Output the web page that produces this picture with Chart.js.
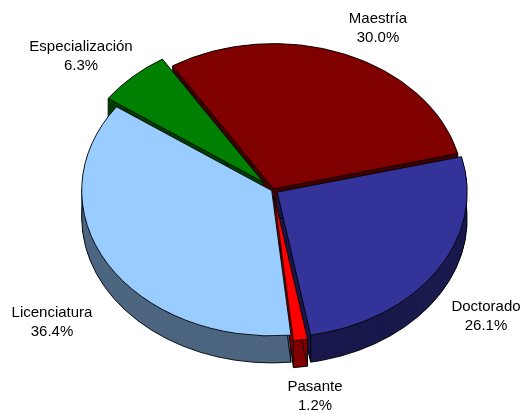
<!DOCTYPE html>
<html lang="es">
<head>
  <meta charset="UTF-8" />
  <title>Grado de estudios</title>
  <script src="https://cdn.jsdelivr.net/npm/chart.js"></script>
  <style>
    html, body { margin: 0; padding: 0; background: #fff; }
    canvas { display: block; }
  </style>
</head>
<body>
  <canvas id="pie" width="524" height="414"></canvas>

  <script>
    const categories = ['Maestría', 'Doctorado', 'Pasante', 'Licenciatura', 'Especialización'];
    const values = [30.0, 26.1, 1.2, 36.4, 6.3];

    // slice styling, same order as categories
    const topColors = ['#800000', '#333399', '#ff0000', '#99ccff', '#008000'];
    const wallColors = ['#400000', '#1a1a4d', '#800000', '#4d6680', '#004000'];
    const explode = [1.5, 5, 8, 1.5, 14];

    // where the two-line labels sit (centre x, first baseline y)
    const labelSpots = [[378, 23], [486, 311], [315, 391], [52, 317], [81, 51]];

    const squash = 0.765;    // pie is tilted, circle becomes ellipse
    const depth = 27;        // height of the side wall in px
    const centerY = 190;

    function applyTilt(chart, ctx) {
      const cy = (chart.chartArea.top + chart.chartArea.bottom) / 2;
      ctx.translate(0, centerY);
      ctx.scale(1, squash);
      ctx.translate(0, -cy);
    }

    function wedge(ctx, arc, dy) {
      ctx.beginPath();
      ctx.moveTo(arc.x, arc.y + dy);
      ctx.arc(arc.x, arc.y + dy, arc.outerRadius, arc.startAngle, arc.endAngle);
      ctx.closePath();
    }

    const tiltedPie = {
      id: 'tiltedPie',
      afterDatasetsUpdate(chart) {
        // pull slices out by hand, the offset option also grows the radius
        chart.getDatasetMeta(0).data.forEach((arc, i) => {
          const mid = (arc.startAngle + arc.endAngle) / 2;
          arc.x += Math.cos(mid) * explode[i];
          arc.y += Math.sin(mid) * explode[i];
        });
      },
      beforeDatasetsDraw(chart) {
        const ctx = chart.ctx;
        ctx.save();
        applyTilt(chart, ctx);

        const h = depth / squash;
        const arcs = chart.getDatasetMeta(0).data.map((arc, i) => ({ arc, i }));
        arcs.sort((a, b) =>
          Math.sin((a.arc.startAngle + a.arc.endAngle) / 2) - Math.sin((b.arc.startAngle + b.arc.endAngle) / 2));

        // back to front so the nearer walls cover the far ones
        arcs.forEach(({ arc, i }) => {
          ctx.fillStyle = wallColors[i];
          for (let dy = h; dy > 0; dy -= 0.5) {
            wedge(ctx, arc, dy);
            ctx.fill();
          }
          ctx.strokeStyle = '#000';
          ctx.lineWidth = 1;
          wedge(ctx, arc, h);
          ctx.stroke();
          [arc.startAngle, arc.endAngle].forEach(a => {
            const px = arc.x + Math.cos(a) * arc.outerRadius;
            const py = arc.y + Math.sin(a) * arc.outerRadius;
            ctx.beginPath();
            ctx.moveTo(px, py);
            ctx.lineTo(px, py + h);
            ctx.stroke();
          });
        });
      },
      afterDatasetsDraw(chart) {
        chart.ctx.restore();
      },
      afterDraw(chart) {
        const ctx = chart.ctx;
        ctx.save();
        ctx.font = '15px "Liberation Sans", Arial, sans-serif';
        ctx.fillStyle = '#000';
        ctx.textAlign = 'center';
        categories.forEach((name, i) => {
          const [x, y] = labelSpots[i];
          ctx.fillText(name, x, y);
          ctx.fillText(values[i].toFixed(1) + '%', x, y + 19);
        });
        ctx.restore();
      }
    };

    new Chart(document.getElementById('pie'), {
      type: 'pie',
      data: {
        labels: categories,
        datasets: [{
          data: values,
          backgroundColor: topColors,
          borderColor: '#000',
          borderWidth: 1,
          borderJoinStyle: 'bevel',
          clip: false
        }]
      },
      options: {
        responsive: false,
        animation: false,
        rotation: -32.1,
        radius: 190,
        layout: { padding: { left: 22 } },
        plugins: {
          legend: { display: false },
          tooltip: { enabled: false }
        }
      },
      plugins: [tiltedPie]
    });
  </script>
</body>
</html>
